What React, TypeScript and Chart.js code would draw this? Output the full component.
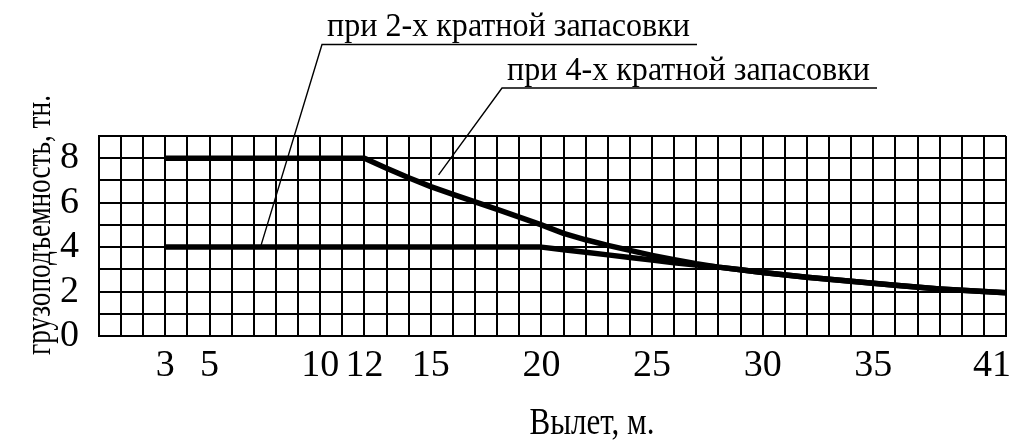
import React, { useEffect, useRef } from "react";
import { Chart, registerables } from "chart.js";

Chart.register(...registerables);

// ---------- data ----------
const reach2x = [3, 20, 21, 22, 23, 24, 25, 26, 27, 28, 29, 30, 32, 34, 36, 38, 40, 41];
const load2x = [4, 4, 3.88, 3.77, 3.65, 3.53, 3.42, 3.3, 3.19, 3.1, 2.98, 2.86, 2.64, 2.46, 2.28, 2.12, 2.0, 1.95];

const reach4x = [3, 12, 13, 14, 15, 16, 17, 18, 19, 20, 21, 22, 23, 24, 25, 26, 27, 28, 29, 30, 32, 34, 36, 38, 40, 41];
const load4x = [8, 8, 7.55, 7.12, 6.72, 6.37, 6.04, 5.7, 5.35, 5.0, 4.62, 4.33, 4.08, 3.85, 3.63, 3.43, 3.25, 3.1, 2.98, 2.86, 2.64, 2.46, 2.28, 2.12, 2.0, 1.95];

const xTickLabels = [3, 5, 10, 12, 15, 20, 25, 30, 35, 41];
const yTickLabels = [0, 2, 4, 6, 8];

const xAxisTitle = "Вылет, м.";
const yAxisTitle = "грузоподъемность, тн.";
const label2x = "при 2-х кратной запасовки";
const label4x = "при 4-х кратной запасовки";

// ---------- styling / annotation layout ----------
const FONT = '"Liberation Serif", "DejaVu Serif", serif';

const annotations = [
  { text: label2x, textLeft: 327, baseline: 36, textWidth: 363, lineStart: 322, lineEnd: 697, lineY: 44.5, anchor: { x: 7.3, y: 4 } },
  { text: label4x, textLeft: 507, baseline: 80, textWidth: 363, lineStart: 502, lineEnd: 877, lineY: 88, anchor: { x: 15.35, y: 7.25 } },
];

function drawFitted(
  ctx: CanvasRenderingContext2D,
  text: string,
  x: number,
  y: number,
  width: number,
  font: string,
  align: "left" | "center"
) {
  ctx.save();
  ctx.font = font;
  ctx.textBaseline = "alphabetic";
  ctx.textAlign = "left";
  const c = ctx as any;
  const hasLS = "letterSpacing" in c;
  if (hasLS) c.letterSpacing = "0px";
  const w = ctx.measureText(text).width;
  const left = align === "center" ? x - width / 2 : x;
  if (w < width && hasLS && text.length > 1) {
    c.letterSpacing = `${(width - w) / (text.length - 1)}px`;
    ctx.fillText(text, left, y);
  } else {
    ctx.translate(left, y);
    ctx.scale(width / w, 1);
    ctx.fillText(text, 0, 0);
  }
  ctx.restore();
}

const overlayPlugin = {
  id: "overlay",
  beforeDraw(chart: any) {
    // keep the last x label ("41") inside the canvas, right-aligned like the reference
    const xs = chart.scales.x;
    const items = xs.getLabelItems(chart.chartArea);
    const last = items.find((it: any) => it.label === String(xTickLabels[xTickLabels.length - 1]));
    if (last) {
      last.options.textAlign = "right";
      last.options.translation = [chart.width - 6, last.options.translation[1]];
    }
  },
  afterDraw(chart: any) {
    const ctx: CanvasRenderingContext2D = chart.ctx;
    const xs = chart.scales.x;
    const ys = chart.scales.y;
    ctx.save();
    ctx.strokeStyle = "#000";
    ctx.fillStyle = "#000";
    ctx.lineWidth = 1.4;
    for (const a of annotations) {
      ctx.beginPath();
      ctx.moveTo(xs.getPixelForValue(a.anchor.x), ys.getPixelForValue(a.anchor.y));
      ctx.lineTo(a.lineStart, a.lineY);
      ctx.lineTo(a.lineEnd, a.lineY);
      ctx.stroke();
      drawFitted(ctx, a.text, a.textLeft, a.baseline, a.textWidth, `34px ${FONT}`, "left");
    }
    // x axis title
    drawFitted(ctx, xAxisTitle, 592, 434, 125, `38px ${FONT}`, "center");
    // y axis title (rotated)
    ctx.save();
    ctx.translate(50, 225);
    ctx.rotate(-Math.PI / 2);
    drawFitted(ctx, yAxisTitle, 0, 0, 260, `36px ${FONT}`, "center");
    ctx.restore();
    ctx.restore();
  },
};

export default function App() {
  const ref = useRef<HTMLCanvasElement>(null);

  useEffect(() => {
    if (!ref.current) return;
    const chart = new Chart(ref.current, {
      type: "line",
      data: {
        datasets: [
          {
            label: label2x,
            data: reach2x.map((x, i) => ({ x, y: load2x[i] })),
            borderColor: "#000",
            borderWidth: 5.5,
            pointRadius: 0,
            fill: false,
          },
          {
            label: label4x,
            data: reach4x.map((x, i) => ({ x, y: load4x[i] })),
            borderColor: "#000",
            borderWidth: 5.5,
            pointRadius: 0,
            fill: false,
          },
        ],
      },
      options: {
        responsive: false,
        animation: false,
        layout: { padding: { top: 136, right: 11, left: 0, bottom: 0 } },
        plugins: {
          legend: { display: false },
          tooltip: { enabled: false },
          title: { display: false },
        },
        elements: {
          line: { tension: 0, borderJoinStyle: "round", borderCapStyle: "butt" },
          point: { radius: 0 },
        },
        scales: {
          x: {
            type: "linear",
            position: "bottom",
            min: 0,
            max: 41,
            ticks: {
              stepSize: 1,
              maxTicksLimit: 100,
              autoSkip: false,
              maxRotation: 0,
              minRotation: 0,
              padding: 7,
              color: "#000",
              font: { family: FONT, size: 38 },
              callback: (v: any) => (xTickLabels.includes(Number(v)) ? String(v) : ""),
            },
            grid: { color: "#000", lineWidth: 2, drawTicks: false },
            border: { display: true, color: "#000", width: 2 },
            afterFit: (s: any) => {
              s.height = 107;
              s.paddingLeft = 0;
              s.paddingRight = 0;
            },
          },
          y: {
            type: "linear",
            min: 0,
            max: 9,
            ticks: {
              stepSize: 1,
              maxTicksLimit: 100,
              autoSkip: false,
              padding: 20,
              color: "#000",
              font: { family: FONT, size: 38 },
              callback: (v: any) => (yTickLabels.includes(Number(v)) ? String(v) : ""),
            },
            grid: { color: "#000", lineWidth: 2, drawTicks: false },
            border: { display: true, color: "#000", width: 2 },
            afterFit: (s: any) => {
              s.width = 99;
              s.paddingTop = 0;
              s.paddingBottom = 0;
            },
          },
        },
      },
      plugins: [overlayPlugin],
    } as any);
    return () => chart.destroy();
  }, []);

  return (
    <div style={{ position: "fixed", left: 0, top: 0, width: 1017, height: 443, background: "#fff" }}>
      <canvas ref={ref} width={1017} height={443} style={{ display: "block" }} />
    </div>
  );
}
